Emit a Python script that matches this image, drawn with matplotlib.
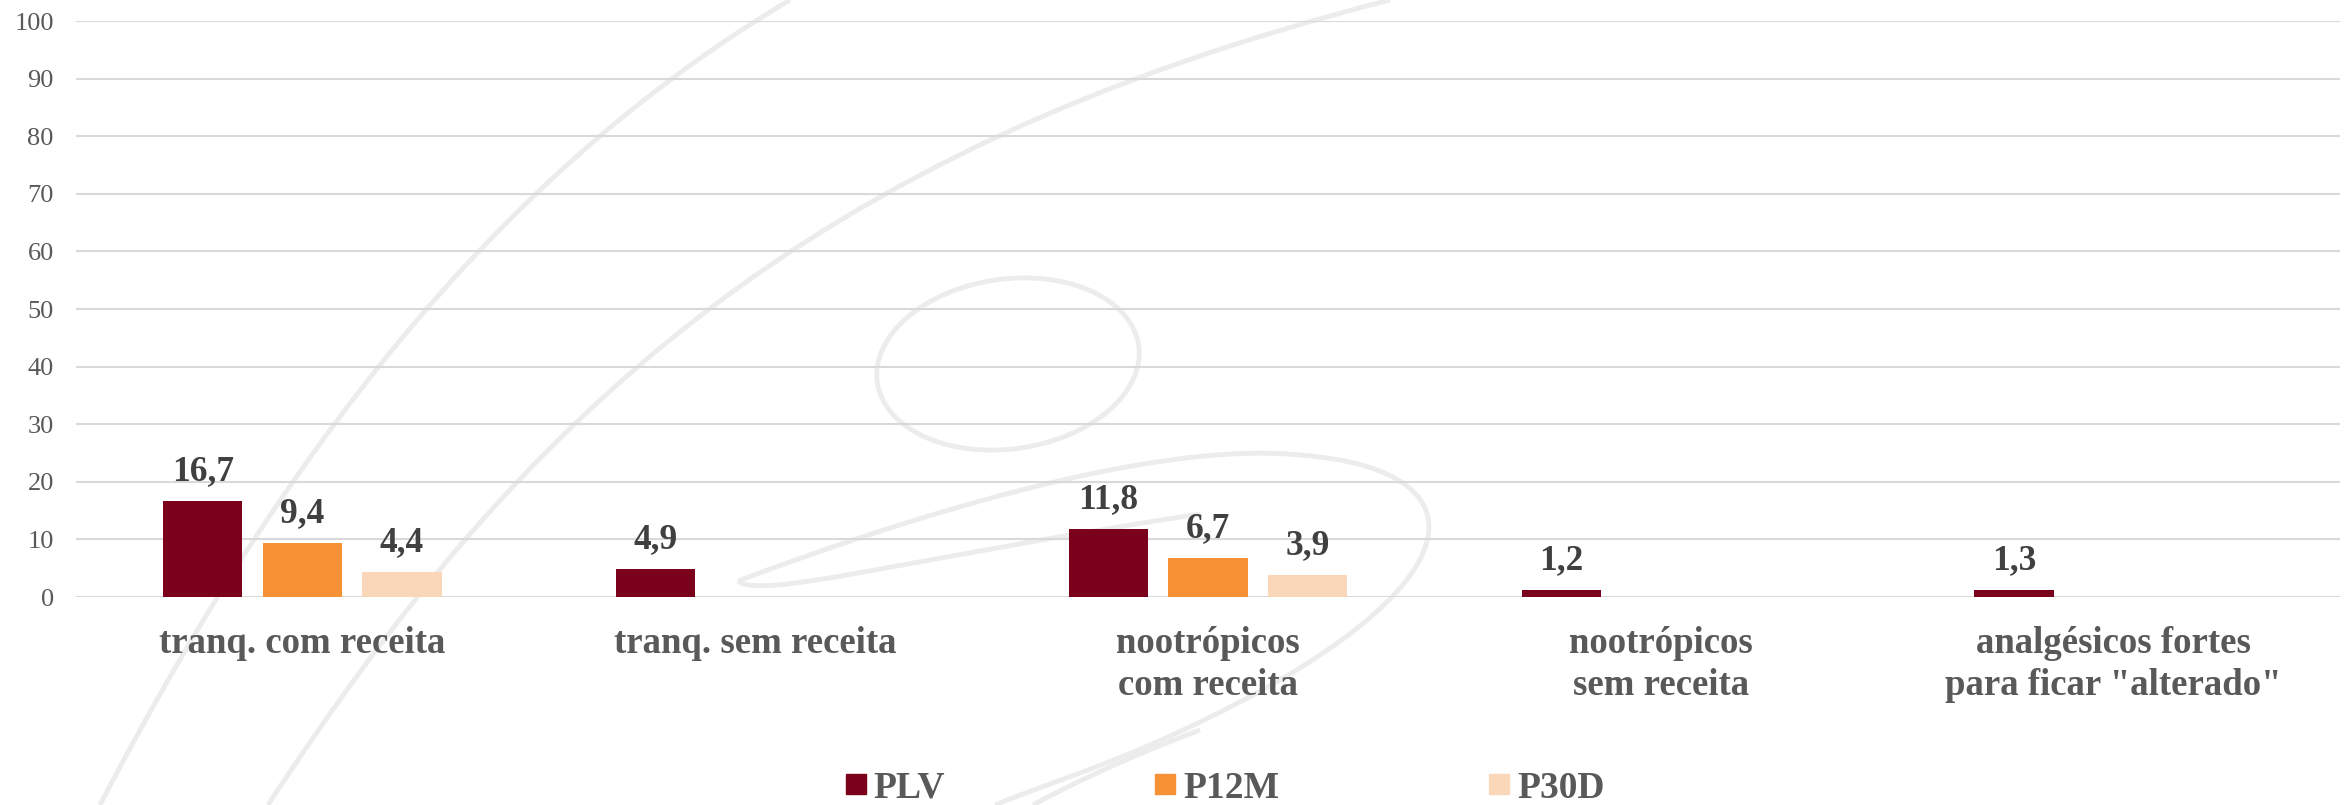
import matplotlib.pyplot as plt
import numpy as np
from matplotlib.lines import Line2D
from matplotlib.path import Path
from matplotlib.patches import PathPatch, Ellipse

plt.rcParams['font.family'] = ['Liberation Serif', 'DejaVu Serif']

# dados
categorias = ["tranq. com receita", "tranq. sem receita", "nootrópicos\ncom receita",
              "nootrópicos\nsem receita", "analgésicos fortes\npara ficar \"alterado\""]
series = ["PLV", "P12M", "P30D"]
plv = [16.7, 4.9, 11.8, 1.2, 1.3]
p12m = [9.4, np.nan, 6.7, np.nan, np.nan]
p30d = [4.4, np.nan, 3.9, np.nan, np.nan]
cores = ["#7B001C", "#F79135", "#FBD7B9"]

W, H = 2351, 805
fig = plt.figure(figsize=(W / 100, H / 100), dpi=100)

# marca d'agua ao fundo (decorativa)
bg = fig.add_axes([0, 0, 1, 1], zorder=0)
bg.set_xlim(0, W)
bg.set_ylim(H, 0)
bg.axis('off')
wm = dict(facecolor='none', edgecolor='#ECECEC', lw=3.5)
curvas = [
    [(100, 805), (300, 420), (520, 160), (790, 0)],
    [(268, 805), (520, 420), (800, 150), (1390, 0)],
    [(738, 581), (900, 520), (1150, 440), (1300, 455)],
    [(1300, 455), (1500, 470), (1480, 600), (1150, 745)],
    [(1150, 745), (1080, 775), (1030, 790), (995, 805)],
    [(738, 581), (760, 600), (900, 560), (1200, 514)],
    [(1200, 730), (1120, 760), (1060, 790), (1033, 805)],
]
for c in curvas:
    bg.add_patch(PathPatch(Path(c, [Path.MOVETO, Path.CURVE4, Path.CURVE4, Path.CURVE4]), **wm))
bg.add_patch(Ellipse((1008, 364), 264, 170, angle=-8, **wm))

ax = fig.add_axes([76 / W, 1 - 597 / H, (2340 - 76) / W, (597 - 21) / H], zorder=1)
ax.set_facecolor('none')

x = np.arange(len(categorias))
desloc = [-0.22, 0, 0.22]
largura = 0.175
for vals, nome, cor, d in zip([plv, p12m, p30d], series, cores, desloc):
    ax.bar(x + d, vals, largura, color=cor, label=nome, zorder=3)
    for xi, v in zip(x, vals):
        if np.isnan(v):
            continue
        ax.annotate(f"{v:.1f}".replace('.', ','), (xi + d, v), xytext=(0, 15),
                    textcoords='offset points', ha='center', va='baseline',
                    fontsize=25.5, fontweight='bold', color='#404040')

ax.set_xlim(-0.5, len(categorias) - 0.5)
ax.set_ylim(0, 100)
ax.set_yticks(np.arange(0, 101, 10))
ax.yaxis.grid(True, color='#D9D9D9', lw=1.5, zorder=0)
ax.set_axisbelow(True)
for s in ax.spines.values():
    s.set_visible(False)
ax.tick_params(axis='y', length=0, pad=16, labelsize=19, labelcolor='#595959')
ax.set_xticks(x)
ax.set_xticklabels(categorias, fontsize=26.5, fontweight='bold', color='#595959',
                   linespacing=1.25)
ax.tick_params(axis='x', length=0, pad=21)

handles = [Line2D([0], [0], marker='s', color='w', markerfacecolor=c, markeredgecolor=c,
                  markersize=14.5, label=n) for c, n in zip(cores, series)]
fig.legend(handles=handles, loc='center', bbox_to_anchor=(1225 / W, 1 - 788 / H), ncol=3,
           frameon=False, handlelength=0.55, handletextpad=0.2, columnspacing=5.6,
           prop={'size': 27, 'weight': 'bold'}, labelcolor='#595959')

fig.savefig('out.png', dpi=100)
